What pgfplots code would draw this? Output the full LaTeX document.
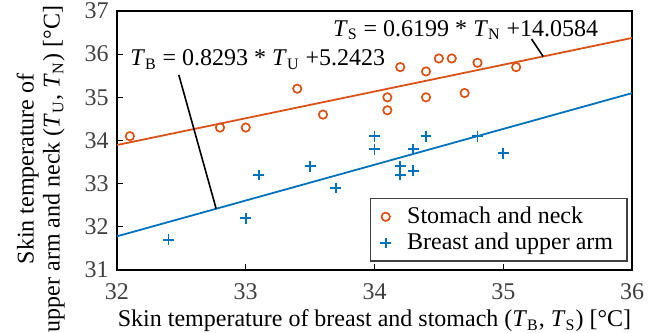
\documentclass[border=0pt]{standalone}
\usepackage{fontspec}
\setmainfont{Liberation Serif}
\usepackage{pgfplots}
\pgfplotsset{compat=1.18}
\usetikzlibrary{calc}
\definecolor{morange}{RGB}{217,83,25}
\definecolor{mblue}{RGB}{0,114,189}
\newcommand\T[1]{\textit{T}\textsubscript{#1}}
\begin{document}
\fontsize{12pt}{14pt}\selectfont
\begin{tikzpicture}
\begin{axis}[
  scale only axis,
  width=257.5pt, height=129.5pt,
  xmin=32, xmax=36, ymin=31, ymax=37,
  xtick={32,33,34,35,36}, ytick={31,32,33,34,35,36,37},
  tick pos=left, tick align=inside,
  major tick length=3pt,
  axis line style={line width=1pt},
  every tick/.style={black, line width=0.6pt},
  /pgf/number format/assume math mode=true,
  ticklabel style={font=\fontsize{12pt}{14pt}\selectfont, text=black!75},
  xticklabel style={yshift=-2.5pt},
  xlabel={Skin temperature of breast and stomach (\T{B}, \T{S}) [°C]},
  ylabel={Skin temperature of\\upper arm and neck (\T{U}, \T{N}) [°C]},
  xlabel style={font=\fontsize{12pt}{14pt}\selectfont, yshift=3pt},
  ylabel style={font=\fontsize{12pt}{13pt}\selectfont, align=center,
    at={(axis description cs:-0.148,0.39)}, anchor=center},
  legend style={at={(0.992,0.031)}, anchor=south east, draw=black!75, line width=0.8pt,
    font=\fontsize{12pt}{13pt}\selectfont, row sep=-1pt, inner xsep=5pt, inner ysep=2pt,
    /tikz/every odd column/.append style={column sep=6pt}},
  legend cell align=left,
  clip=false,
]
\addplot[only marks, mark=o, mark size=2.1pt, morange, line width=0.85pt] coordinates {
(32.1,34.1) (32.8,34.3) (33.0,34.3) (33.4,35.2) (33.6,34.6) (34.1,35.0) (34.1,34.7)
(34.2,35.7) (34.4,35.6) (34.4,35.0) (34.5,35.9) (34.6,35.9) (34.7,35.1) (34.8,35.8) (35.1,35.7)};
\addlegendentry{Stomach and neck}
\addplot[only marks, mark=+, mark size=2.7pt, mblue, line width=0.95pt] coordinates {
(32.4,31.7) (33.0,32.2) (33.1,33.2) (33.5,33.4) (33.7,32.9) (34.0,34.1) (34.0,33.8)
(34.2,33.4) (34.2,33.2) (34.3,33.8) (34.3,33.3) (34.4,34.1) (34.8,34.1) (35.0,33.7)};
\addlegendentry{Breast and upper arm}
\addplot[morange, line width=0.9pt, forget plot] coordinates {(32,33.895) (36,36.375)};
\addplot[mblue, line width=0.9pt, forget plot] coordinates {(32,31.78) (36,35.097)};
\addplot[black, line width=0.8pt, forget plot] coordinates {(32.48,35.52) (32.77,32.42)};
\addplot[black, line width=0.8pt, forget plot] coordinates {(35.22,36.35) (35.31,35.947)};
\node[anchor=west, inner sep=0pt, font=\fontsize{12pt}{14pt}\selectfont] at (axis cs:32.1,35.87) {\T{B} =\ 0.8293 * \T{U} +5.2423};
\node[anchor=east, inner sep=0pt, font=\fontsize{12pt}{14pt}\selectfont] at (axis cs:35.74,36.56) {\T{S} =\ 0.6199 * \T{N} +14.0584};
\end{axis}
\pgfresetboundingbox
\path ($(current axis.south west)+(-58.5pt,-31.5pt)$) rectangle ($(current axis.north east)+(15pt,5.5pt)$);
\end{tikzpicture}
\end{document}
